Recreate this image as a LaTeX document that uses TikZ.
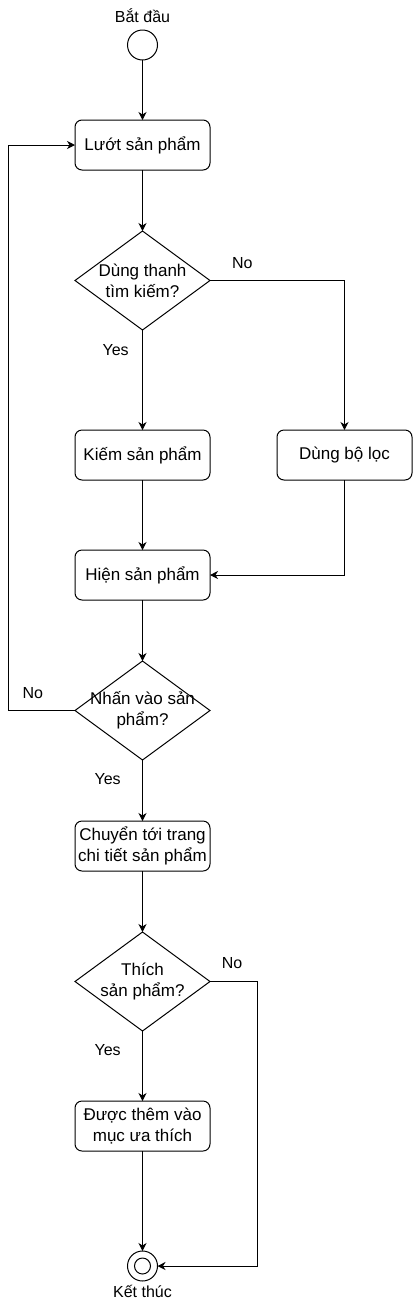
\documentclass[tikz,border=0pt]{standalone}
\usepackage{fontspec}
\setmainfont{Liberation Sans}
\usetikzlibrary{positioning,shapes.geometric,arrows.meta}

\begin{document}
\begin{tikzpicture}[
box/.style={
	draw, rectangle, rounded corners=7pt,
	minimum width=135pt, minimum height=50pt, outer sep=0pt,
	inner sep=2pt, align=center, font=\fontsize{17}{21}\selectfont
},
ask/.style={
	draw, diamond, minimum width=135pt, minimum height=99pt,
	inner sep=0pt, outer sep=0pt
},
asktext/.style={align=center, font=\fontsize{17}{21}\selectfont},
small/.style={font=\fontsize{16}{19}\selectfont},
dot/.style={draw, circle, minimum size=30pt, inner sep=0pt, outer sep=0pt},
arr/.style={-{Stealth[length=8pt,width=8pt,inset=2.5pt]}},
x=1pt, y=-1pt, line width=1pt, node distance=61pt
]
\useasboundingbox (0,0) rectangle (413,1310);
\node[dot, label={[small, yshift=4pt]above:Bắt đầu}] (start) at (142.5,45) {};
\node[box, below=60pt of start] (browse) {Lướt sản phẩm};
\node[ask, below=of browse, label={[asktext]center:Dùng thanh\\tìm kiếm?}] (ask1) {};
\node[box, below=100pt of ask1] (find) {Kiếm sản phẩm};
\node[box, right=67pt of find] (filter) {Dùng bộ lọc};
\node[box, below=70pt of find] (show) {Hiện sản phẩm};
\node[ask, below=of show, label={[asktext]center:Nhấn vào sản\\phẩm?}] (ask2) {};
\node[box, below=of ask2] (detail) {Chuyển tới trang\\chi tiết sản phẩm};
\node[ask, below=of detail, label={[asktext]center:Thích\\sản phẩm?}] (ask3) {};
\node[box, below=70pt of ask3] (fav) {Được thêm vào\\mục ưa thích};
\node[dot, below=100pt of fav, label={[small]below:Kết thúc},
	path picture={\draw (path picture bounding box.center) circle (8pt);}] (stop) {};
\foreach \a/\b in {start/browse, browse/ask1, find/show, show/ask2, detail/ask3, fav/stop}
{
	\draw[arr] (\a) -- (\b);
}
\draw[arr] (ask1) -- node[small, pos=0.2, left=10pt] {Yes} (find);
\draw[arr] (ask1.east) -| node[small, pos=0.12, above=8pt] {No} (filter);
\draw[arr] (filter) |- (show);
\draw[arr] (ask2) -- node[small, pos=0.32, left=18pt] {Yes} (detail);
\draw[arr] (ask2.west) -- node[small, pos=0.63, above=8pt] {No} ++(-67pt,0) |- (browse.west);
\draw[arr] (ask3) -- node[small, pos=0.27, left=18pt] {Yes} (fav);
\draw[arr] (ask3.east) -- node[small, pos=0.47, above=9pt] {No} ++(47pt,0) |- (stop.east);
\end{tikzpicture}
\end{document}
